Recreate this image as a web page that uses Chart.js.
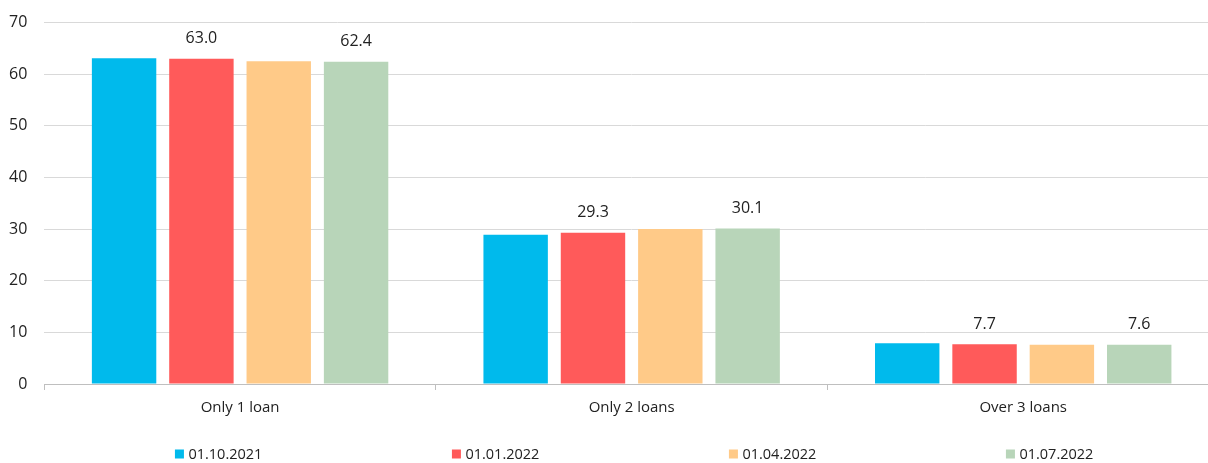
<!DOCTYPE html>
<html>
<head>
<meta charset="utf-8">
<script src="https://cdn.jsdelivr.net/npm/chart.js@4/dist/chart.umd.min.js"></script>
<style>
  html, body { margin: 0; padding: 0; overflow: hidden; background: #fff; }
</style>
</head>
<body>
<canvas id="loansChart" width="1219" height="463"></canvas>
<script>
// Chart data
const categories = ['Only 1 loan', 'Only 2 loans', 'Over 3 loans'];
const seriesNames = ['01.10.2021', '01.01.2022', '01.04.2022', '01.07.2022'];
const oct2021 = [63.1, 28.9, 7.9];
const jan2022 = [63.0, 29.3, 7.7];
const apr2022 = [62.5, 30.0, 7.6];
const jul2022 = [62.4, 30.1, 7.6];
const yTicks = [0, 10, 20, 30, 40, 50, 60, 70];
const labelledSeries = [1, 3]; // only these carry value labels

const colors = ['#00BAEC', '#FF5A5A', '#FFCA88', '#B8D5B9'];
const seriesData = [oct2021, jan2022, apr2022, jul2022];

Chart.defaults.font.family = '"Open Sans", sans-serif';
Chart.defaults.color = '#222';

// value labels above bars
const valueLabels = {
    id: 'valueLabels',
    afterDatasetsDraw(chart) {
        const ctx = chart.ctx;
        ctx.save();
        ctx.font = '16px "Open Sans"';
        ctx.fillStyle = '#222';
        ctx.textAlign = 'center';
        ctx.textBaseline = 'alphabetic';
        labelledSeries.forEach(i => {
            chart.getDatasetMeta(i).data.forEach((bar, j) => {
                ctx.fillText(chart.data.datasets[i].data[j].toFixed(1), bar.x, bar.y - 15.5);
            });
        });
        ctx.restore();
    }
};

// legend spread evenly under the plot
const spacedLegend = {
    id: 'spacedLegend',
    afterDraw(chart) {
        const { ctx, chartArea } = chart;
        const mid = (chartArea.left + chartArea.right) / 2 + 2.5;
        const step = 277;
        const y = 454;
        ctx.save();
        ctx.font = '14.5px "Open Sans"';
        ctx.textBaseline = 'middle';
        chart.data.datasets.forEach((ds, i) => {
            const textW = ctx.measureText(ds.label).width;
            const w = 9 + 4.5 + textW;
            const x = mid + (i - 1.5) * step - w / 2;
            ctx.fillStyle = ds.backgroundColor;
            ctx.fillRect(x, y - 4.5, 9, 9);
            ctx.fillStyle = '#222';
            ctx.fillText(ds.label, x + 13.5, y + 1);
        });
        ctx.restore();
    }
};

const ctx = document.getElementById('loansChart').getContext('2d');

const loansChart = new Chart(ctx, {
    type: 'bar',
    data: {
        labels: categories,
        datasets: seriesNames.map((name, i) => ({
            label: name,
            data: seriesData[i],
            backgroundColor: colors[i],
            borderWidth: 0,
            barPercentage: 0.833,
            categoryPercentage: 0.79
        }))
    },
    options: {
        responsive: false,
        animation: false,
        devicePixelRatio: 1,
        layout: {
            padding: { top: 22.5, left: 9, right: 0, bottom: 37 }
        },
        scales: {
            x: {
                grid: {
                    drawOnChartArea: false,
                    tickLength: 6,
                    color: '#bfbfbf'
                },
                border: { color: '#bfbfbf' },
                ticks: {
                    padding: 9,
                    font: { size: 15 },
                    color: '#222'
                }
            },
            y: {
                min: 0,
                max: 70,
                afterBuildTicks: axis => {
                    axis.ticks = yTicks.map(v => ({ value: v }));
                },
                afterFit: axis => {
                    axis.width = 35.3;
                    axis.paddingTop = 0;
                    axis.paddingBottom = 0;
                },
                grid: {
                    color: '#d9d9d9',
                    drawTicks: false
                },
                border: { display: false },
                ticks: {
                    padding: 17,
                    font: { size: 16 },
                    color: '#222'
                }
            }
        },
        plugins: {
            legend: { display: false },
            tooltip: { enabled: false }
        }
    },
    plugins: [valueLabels, spacedLegend]
});
</script>
</body>
</html>
